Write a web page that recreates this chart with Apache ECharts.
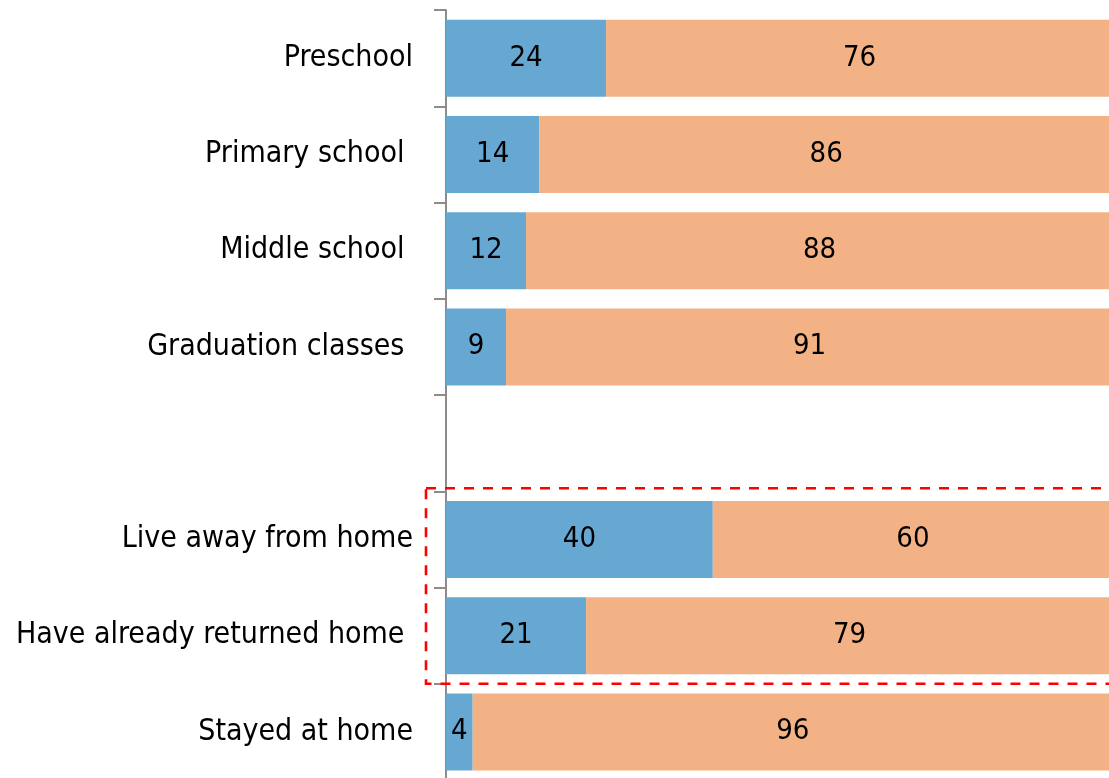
<!DOCTYPE html>
<html>
<head>
<meta charset="utf-8">
<script src="https://cdn.jsdelivr.net/npm/echarts@6/dist/echarts.min.js"></script>
<style>
  html, body { margin: 0; padding: 0; background: #ffffff; }
  #chart { width: 1109px; height: 778px; }
</style>
</head>
<body>
<div id="chart"></div>
<script>
// Category labels (top to bottom); the empty entry leaves a gap between the two groups
const categories = [
  'Preschool',
  'Primary school ',
  'Middle school ',
  'Graduation classes ',
  '',
  'Live away from home',
  'Have already returned home ',
  'Stayed at home'
];
// Shares in percent
const blueValues   = [24, 14, 12, 9, null, 40, 21, 4];
const orangeValues = [76, 86, 88, 91, null, 60, 79, 96];

const FONT = '"Liberation Sans Narrow", "Arial Narrow", "DejaVu Sans Condensed", sans-serif';

const chart = echarts.init(document.getElementById('chart'), null, { renderer: 'canvas' });

const valueLabel = {
  show: true,
  position: 'inside',
  color: '#000000',
  fontFamily: FONT,
  fontSize: 29
};

chart.setOption({
  animation: false,
  backgroundColor: '#ffffff',
  grid: {
    left: 446, right: -4, top: 10, bottom: -2,
    containLabel: false,
    outerBoundsMode: 'none'
  },
  xAxis: {
    type: 'value',
    min: 0,
    max: 100,
    show: false
  },
  yAxis: {
    type: 'category',
    data: categories,
    inverse: true,
    axisLine: { show: true, lineStyle: { color: '#8c8c8c', width: 2 } },
    axisTick: { show: true, length: 12, lineStyle: { color: '#8c8c8c', width: 2 } },
    axisLabel: {
      margin: 33,
      color: '#000000',
      fontFamily: FONT,
      fontSize: 30
    },
    splitLine: { show: false }
  },
  series: [
    {
      name: 'blue',
      type: 'bar',
      stack: 'total',
      barWidth: '80%',
      data: blueValues,
      itemStyle: { color: '#67a8d3' },
      label: valueLabel
    },
    {
      name: 'orange',
      type: 'bar',
      stack: 'total',
      barWidth: '80%',
      data: orangeValues,
      itemStyle: { color: '#f3b286' },
      label: valueLabel
    }
  ]
});

// Dashed frame around the "Live away from home" / "Have already returned home" rows,
// placed from the category band boundaries of the y axis.
function drawFrame() {
  const yTop = (chart.convertToPixel({ yAxisIndex: 0 }, categories[4]) +
                chart.convertToPixel({ yAxisIndex: 0 }, categories[5])) / 2 - 3;
  const yBottom = (chart.convertToPixel({ yAxisIndex: 0 }, categories[6]) +
                   chart.convertToPixel({ yAxisIndex: 0 }, categories[7])) / 2;
  const xAxisStart = chart.convertToPixel({ xAxisIndex: 0 }, 0);
  const xLeft = xAxisStart - 20;
  const xRight = chart.getWidth() + 20;
  chart.setOption({
    graphic: [{
      type: 'rect',
      z: 100,
      shape: { x: xLeft, y: yTop, width: xRight - xLeft, height: yBottom - yTop },
      style: { fill: null, stroke: '#ff0000', lineWidth: 2.6, lineDash: [10, 9] },
      silent: true
    }]
  });
}
drawFrame();
</script>
</body>
</html>
